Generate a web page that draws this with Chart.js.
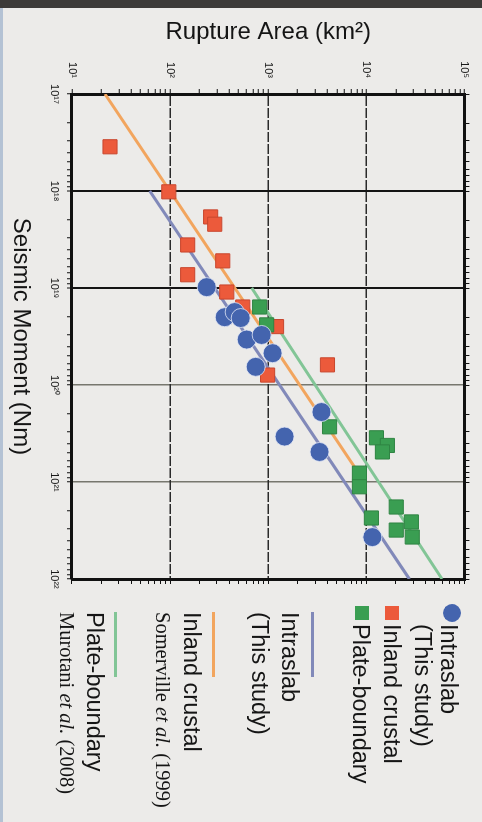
<!DOCTYPE html>
<html><head><meta charset="utf-8">
<script src="https://cdn.jsdelivr.net/npm/chart.js@4.4.1/dist/chart.umd.min.js"></script>
<style>
html,body{margin:0;padding:0;width:482px;height:822px;overflow:hidden;background:#ecebe9;}
#band{position:absolute;left:0;top:0;width:482px;height:8px;background:#3d3b39;z-index:5}
#edge{position:absolute;left:0;top:8px;width:3px;height:814px;background:#b4c2d4;z-index:5}
#wrap{position:absolute;left:0;top:0;width:822px;height:482px;transform-origin:0 0;transform:translate(482px,0) rotate(90deg);font-family:"Liberation Sans",Arial,sans-serif;color:#151515}
canvas{position:absolute;left:0;top:0}
.t{position:absolute;white-space:nowrap;font-size:23.5px;line-height:26px;height:26px}
.s{position:absolute;white-space:nowrap;font-family:"Liberation Serif","Times New Roman",serif;font-size:20.5px;line-height:24px;height:24px}
.s i{font-style:italic}
.mk{position:absolute}
.ln{position:absolute;height:3px;width:65px}
</style></head>
<body>
<div id="band"></div><div id="edge"></div>
<div id="wrap">
<canvas id="c" width="822" height="482"></canvas>
<div class="mk" style="left:604px;top:21px;width:18px;height:18px;border-radius:50%;background:#4464ae"></div>
<div class="t" style="left:624px;top:20px">Intraslab</div>
<div class="t" style="left:624px;top:46px">(This study)</div>
<div class="mk" style="left:606px;top:83px;width:14px;height:14px;background:#ec5a3b"></div>
<div class="t" style="left:624px;top:77px">Inland crustal</div>
<div class="mk" style="left:606px;top:113px;width:14px;height:14px;background:#3a9e52"></div>
<div class="t" style="left:624px;top:108px">Plate-boundary</div>
<div class="ln" style="left:612px;top:168px;background:#8189b9"></div>
<div class="t" style="left:612px;top:179px">Intraslab</div>
<div class="t" style="left:612px;top:209px">(This study)</div>
<div class="ln" style="left:612px;top:267px;background:#f2a55e"></div>
<div class="t" style="left:612px;top:277px">Inland crustal</div>
<div class="s" style="left:612px;top:307px">Somerville <i>et al.</i> (1999)</div>
<div class="ln" style="left:612px;top:365px;background:#82c596"></div>
<div class="t" style="left:612px;top:374px">Plate-boundary</div>
<div class="s" style="left:612px;top:403px">Murotani <i>et al.</i> (2008)</div>
</div>
<script>
// ---- data (seismic moment in Nm, rupture area in km²) ----
const intraslabMoment = [9.8e18, 2.0e19, 1.77e19, 2.04e19, 3.4e19, 3.05e19, 4.7e19, 6.5e19, 1.9e20, 3.4e20, 4.9e20, 3.7e21];
const intraslabArea   = [236, 360, 455, 524, 603, 857, 1109, 745, 3490, 1469, 3335, 11530];
const inlandMoment = [3.5e17, 1.02e18, 1.85e18, 2.2e18, 3.6e18, 5.25e18, 7.3e18, 1.1e19, 1.57e19, 2.5e19, 7.9e19, 6.2e19];
const inlandArea   = [24.4, 97, 259, 285, 151, 344, 151, 378, 550, 1216, 986, 4018];
const plateMoment = [1.57e19, 2.4e19, 2.7e20, 3.5e20, 4.2e20, 4.9e20, 8.1e20, 1.12e21, 2.35e21, 1.81e21, 2.58e21, 3.13e21, 3.69e21];
const plateArea   = [818, 964, 4220, 12680, 16400, 14600, 8510, 8510, 11270, 20200, 28800, 20200, 29400];
// scaling-law lines (end points)
const intraslabLineMoment = [1e18, 1e22];
const intraslabLineArea   = [62, 27500];
const inlandLineMoment = [1e17, 7e20];
const inlandLineArea   = [21.7, 7600];
const plateLineMoment = [1e19, 1e22];
const plateLineArea   = [680, 59000];
// tick labels
const areaTickExps = [1, 2, 3, 4, 5];
const areaTickLabels = ['10¹', '10²', '10³', '10⁴', '10⁵'];
const momentTickExps = [17, 18, 19, 20, 21, 22];
const momentTickLabels = ['10¹⁷', '10¹⁸', '10¹⁹', '10²⁰', '10²¹', '10²²'];

const pts = (xs, ys) => xs.map((x, i) => ({x, y: ys[i]}));
const expOf = v => { const e = Math.log10(v); return Math.abs(e - Math.round(e)) < 1e-6 ? Math.round(e) : null; };
const keepInt = s => { s.ticks = s.ticks.filter(t => { const m = t.value / Math.pow(10, Math.floor(Math.log10(t.value) + 1e-9)); return Math.abs(m - Math.round(m)) < 1e-6; }); };
const labelFrom = (exps, labels) => v => { const e = expOf(v); const i = e === null ? -1 : exps.indexOf(e); return i < 0 ? '' : labels[i]; };

const momentGridColor = c => { const e = c.tick ? expOf(c.tick.value) : null; if (e === 18 || e === 19) return '#141414'; if (e === 20 || e === 21) return '#77776e'; return 'rgba(0,0,0,0)'; };
const momentGridWidth = c => { const e = c.tick ? expOf(c.tick.value) : null; return (e === 18 || e === 19) ? 2 : 1.5; };
const areaGridColor = c => { const e = c.tick ? expOf(c.tick.value) : null; return (e !== null) ? '#2a2a2a' : 'rgba(0,0,0,0)'; };

const tickFont = {family: '"Liberation Sans", Arial, sans-serif', size: 11};
const titleFont = {family: '"Liberation Sans", Arial, sans-serif', size: 24};

new Chart(document.getElementById('c'), {
  type: 'scatter',
  data: {
    datasets: [
      {label: 'Intraslab (This study)', data: pts(intraslabMoment, intraslabArea), pointStyle: 'circle', pointRadius: 9.5, pointHoverRadius: 9.5, backgroundColor: '#4464ae', borderColor: 'rgba(225,230,245,0.8)', borderWidth: 1, order: 1},
      {label: 'Plate-boundary', data: pts(plateMoment, plateArea), pointStyle: 'rect', pointRadius: 10, pointHoverRadius: 10, backgroundColor: '#3a9e52', borderColor: '#2f8443', borderWidth: 1, order: 2},
      {label: 'Inland crustal', data: pts(inlandMoment, inlandArea), pointStyle: 'rect', pointRadius: 10, pointHoverRadius: 10, backgroundColor: '#ec5a3b', borderColor: '#c8462d', borderWidth: 1, order: 3},
      {label: 'Intraslab line', data: pts(intraslabLineMoment, intraslabLineArea), showLine: true, pointRadius: 0, borderColor: '#8189b9', borderWidth: 3, order: 10},
      {label: 'Inland crustal line', data: pts(inlandLineMoment, inlandLineArea), showLine: true, pointRadius: 0, borderColor: '#f2a55e', borderWidth: 3, order: 10},
      {label: 'Plate-boundary line', data: pts(plateLineMoment, plateLineArea), showLine: true, pointRadius: 0, borderColor: '#82c596', borderWidth: 3, order: 10}
    ]
  },
  options: {
    responsive: false, animation: false, devicePixelRatio: 1,
    layout: {padding: {top: 17, right: 243, left: 0, bottom: 0}},
    plugins: {legend: {display: false}, tooltip: {enabled: false}},
    scales: {
      x: {
        type: 'logarithmic', position: 'bottom', min: 1e17, max: 1e22,
        afterBuildTicks: keepInt, afterFit: s => { s.height = 72; },
        grid: {color: momentGridColor, lineWidth: momentGridWidth, tickColor: '#111', tickLength: 5, tickWidth: 1},
        border: {color: '#111', width: 3},
        ticks: {autoSkip: false, maxRotation: 0, minRotation: 0, padding: 6, color: '#111', font: tickFont, callback: labelFrom(momentTickExps, momentTickLabels)},
        title: {display: true, text: 'Seismic Moment (Nm)', color: '#151515', font: titleFont, padding: {top: 0, bottom: 6}}
      },
      y: {
        type: 'logarithmic', position: 'left', min: 10, max: 1e5,
        afterBuildTicks: keepInt, afterFit: s => { s.width = 94; },
        grid: {color: areaGridColor, lineWidth: 1.5, tickColor: '#111', tickLength: 5, tickWidth: 1},
        border: {color: '#111', width: 3, dash: [10, 2]},
        ticks: {autoSkip: false, padding: 11, color: '#111', font: tickFont, callback: labelFrom(areaTickExps, areaTickLabels)},
        title: {display: true, text: 'Rupture Area (km²)', color: '#151515', font: titleFont, padding: {top: 18, bottom: 0}}
      },
      x2: {
        type: 'logarithmic', position: 'top', min: 1e17, max: 1e22,
        afterBuildTicks: keepInt, afterFit: s => { s.height = 0; },
        grid: {drawOnChartArea: false, tickColor: '#111', tickLength: 5, tickWidth: 1},
        border: {color: '#111', width: 3},
        ticks: {display: false}
      },
      y2: {
        type: 'logarithmic', position: 'right', min: 10, max: 1e5,
        afterBuildTicks: keepInt, afterFit: s => { s.width = 0; },
        grid: {drawOnChartArea: false, tickColor: '#111', tickLength: 5, tickWidth: 1},
        border: {color: '#111', width: 3},
        ticks: {display: false}
      }
    }
  }
});
</script>
</body></html>
